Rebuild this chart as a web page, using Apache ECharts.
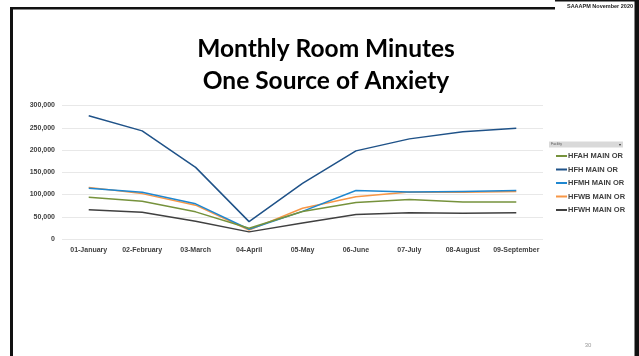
<!DOCTYPE html>
<html><head><meta charset="utf-8">
<script src="https://cdn.jsdelivr.net/npm/echarts@6/dist/echarts.min.js"></script>
<style>html,body{margin:0;padding:0;background:#fff}#c{width:639px;height:356px}</style>
</head><body><div id="c"></div>
<script>
var categories = ['01-January','02-February','03-March','04-April','05-May','06-June','07-July','08-August','09-September'];
var seriesNames = ['HFAH MAIN OR','HFH MAIN OR','HFMH MAIN OR','HFWB MAIN OR','HFWH MAIN OR'];
var hfah = [94000, 85000, 61000, 24000, 62000, 82000, 89000, 83000, 83000];
var hfh  = [277000, 243000, 161000, 39000, 125000, 198000, 225000, 241000, 249000];
var hfmh = [114000, 105000, 79000, 22000, 62000, 109000, 105500, 107000, 109000];
var hfwb = [116000, 102000, 76000, 20000, 69000, 95000, 105500, 105000, 107000];
var hfwh = [66000, 60000, 40000, 16000, 36000, 55000, 59000, 58000, 59000];
var yTicks = [0, 50000, 100000, 150000, 200000, 250000, 300000];
var colors = ['#76923c', '#1f5288', '#1f87d0', '#f79646', '#404040'];

var chart = echarts.init(document.getElementById('c'), null, {renderer:'canvas'});
var dataSets = [hfah, hfh, hfmh, hfwb, hfwh];
var series = dataSets.map(function(d, i){
  return {name: seriesNames[i], type:'line', data:d, symbol:'none', smooth:false,
    lineStyle:{width:1.5, color:colors[i]}, itemStyle:{color:colors[i]}, z: 5 - i};
});
chart.setOption({
  animation:false,
  backgroundColor:'#fff',
  title:{text:'Monthly Room Minutes\nOne Source of Anxiety', left:321, top:28, textAlign:'center',
    textStyle:{fontFamily:'Lato', fontWeight:'bold', fontSize:24.5, lineHeight:32, color:'#000'}},
  grid:{left:62, right:96, top:105.5, bottom:117, containLabel:false},
  legend:{orient:'vertical', left:551, top:146.5, itemWidth:11, itemHeight:2, itemGap:4.5, icon:'rect',
    data:seriesNames,
    textStyle:{fontFamily:'Liberation Sans', fontWeight:'bold', fontSize:7.5, color:'#404040', padding:[0,0,0,-4], lineHeight:9}},
  xAxis:{type:'category', data:categories, boundaryGap:true,
    axisLine:{show:false}, axisTick:{show:false},
    axisLabel:{fontFamily:'Liberation Sans', fontWeight:'bold', fontSize:7, color:'#404040', margin:8, interval:0}},
  yAxis:{type:'value', min:yTicks[0], max:yTicks[yTicks.length-1], interval:50000,
    axisLine:{show:false}, axisTick:{show:false},
    splitLine:{lineStyle:{color:'#e8e8e8', width:1}},
    axisLabel:{fontFamily:'Liberation Sans', fontWeight:'bold', fontSize:7, color:'#404040', margin:7,
      formatter:function(v){return v.toLocaleString('en-US');}}},
  series: series,
  graphic:[
    {type:'rect', shape:{x:549, y:141.5, width:74, height:6}, style:{fill:'#d9d9d9'}, z:10},
    {type:'text', style:{x:551, y:144.5, text:'Facility', fontSize:3.5, fill:'#555', verticalAlign:'middle', fontFamily:'Liberation Sans'}, z:11},
    {type:'text', style:{x:620, y:144.5, text:'▾', fontSize:4, fill:'#333', textAlign:'center', verticalAlign:'middle'}, z:11},
    {type:'rect', shape:{x:10, y:7, width:3, height:349}, style:{fill:'#111'}, z:20},
    {type:'rect', shape:{x:10, y:7, width:545, height:2.5}, style:{fill:'#111'}, z:20},
    {type:'rect', shape:{x:555, y:0, width:80, height:1.5}, style:{fill:'#111'}, z:20},
    {type:'rect', shape:{x:634.5, y:0, width:5, height:356}, style:{fill:'#111'}, z:20},
    {type:'text', style:{x:633, y:6, text:'SAAAPM November 2020', fontSize:5.5, fontWeight:'bold', fill:'#222', textAlign:'right', verticalAlign:'middle', fontFamily:'Liberation Sans'}, z:21},
    {type:'text', style:{x:588, y:345, text:'30', fontSize:6, fill:'#999', textAlign:'center', verticalAlign:'middle', fontFamily:'Liberation Sans'}, z:21}
  ]
});
</script></body></html>
